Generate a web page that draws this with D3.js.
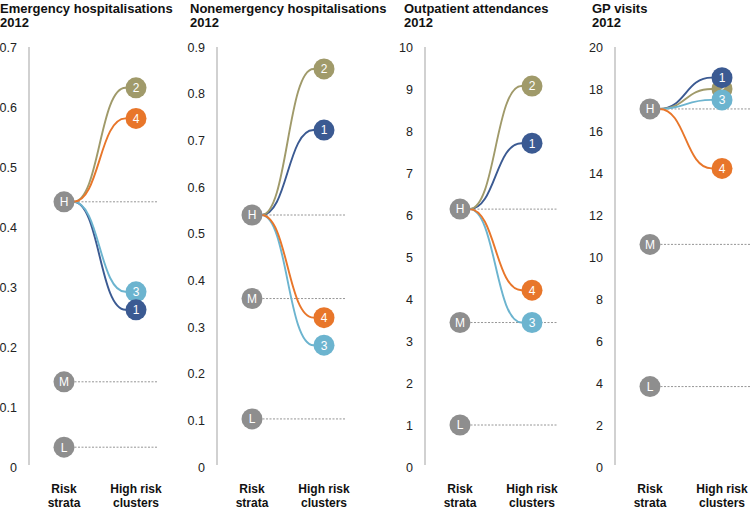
<!DOCTYPE html>
<html>
<head>
<meta charset="utf-8">
<script src="https://cdn.jsdelivr.net/npm/d3@7"></script>
<style>
  body { margin: 0; background: #fff; }
  svg { display: block; font-family: "Liberation Sans", Arial, Helvetica, sans-serif; }
</style>
</head>
<body>
<svg id="chart" width="751" height="510"></svg>
<script>
// panel titles
var titles = ["Emergency hospitalisations", "Nonemergency hospitalisations", "Outpatient attendances", "GP visits"];
var yearLabel = "2012";

// axis ticks per panel
var ticks = [
  [0, 0.1, 0.2, 0.3, 0.4, 0.5, 0.6, 0.7],
  [0, 0.1, 0.2, 0.3, 0.4, 0.5, 0.6, 0.7, 0.8, 0.9],
  [0, 1, 2, 3, 4, 5, 6, 7, 8, 9, 10],
  [0, 2, 4, 6, 8, 10, 12, 14, 16, 18, 20]
];

// risk strata (H, M, L)
var strata = ["H", "M", "L"];
var strataValues = [
  [0.442, 0.142, 0.033],
  [0.540, 0.361, 0.103],
  [6.14, 3.44, 1.0],
  [17.05, 10.6, 3.83]
];

// high risk clusters (1..4), all branching out of H
var clusters = ["1", "2", "3", "4"];
var clusterValues = [
  [0.262, 0.632, 0.292, 0.581],
  [0.722, 0.853, 0.261, 0.320],
  [7.71, 9.07, 3.44, 4.21],
  [18.54, 18.0, 17.48, 14.22]
];

var clusterColors = {"1": "#3b5a92", "2": "#a09a6a", "3": "#6cb4cf", "4": "#e8762a"};
var grey = "#8e8e8e";

// layout
var titleX = [0, 190, 404, 592];
var axisX = [29, 217, 425, 615];
var dashEnd = [157, 345, 558, 751];
var plotTop = 47, plotBottom = 467, r = 10.5;

var svg = d3.select("#chart");

var link = d3.linkHorizontal().x(function(d) { return d[0]; }).y(function(d) { return d[1]; });

titles.forEach(function(title, i) {
  var g = svg.append("g");
  var ax = axisX[i];
  var sx = ax + 35;       // risk strata column
  var cx = sx + 72;       // cluster column

  var y = d3.scaleLinear()
    .domain([0, d3.max(ticks[i])])
    .range([plotBottom, plotTop]);

  // title
  var t = g.append("text")
    .attr("x", titleX[i])
    .attr("y", 13)
    .style("font-weight", "bold")
    .style("font-size", "13px")
    .attr("fill", "#111");
  t.append("tspan").attr("x", titleX[i]).text(title);
  t.append("tspan").attr("x", titleX[i]).attr("dy", 14).text(yearLabel);

  // axis line + labels
  g.append("line")
    .attr("x1", ax).attr("x2", ax)
    .attr("y1", plotTop).attr("y2", plotBottom - 2)
    .attr("stroke", "#b3b3b3")
    .attr("stroke-width", 1.2);

  g.selectAll(".tick")
    .data(ticks[i])
    .enter()
    .append("text")
    .attr("x", ax - 12)
    .attr("y", function(d) { return y(d); })
    .attr("dy", "0.36em")
    .attr("text-anchor", "end")
    .style("font-size", "12.5px")
    .attr("fill", "#222")
    .text(function(d) { return d3.format("~g")(d); });

  // dashed reference lines from each stratum
  g.selectAll(".dash")
    .data(strataValues[i])
    .enter()
    .append("line")
    .attr("x1", sx + r).attr("x2", dashEnd[i])
    .attr("y1", function(d) { return y(d); })
    .attr("y2", function(d) { return y(d); })
    .attr("stroke", "#8a8a8a")
    .attr("stroke-width", 0.9)
    .attr("stroke-dasharray", "2,1.5");

  // curves from H to each cluster
  var hy = y(strataValues[i][0]);
  g.selectAll(".curve")
    .data(clusters)
    .enter()
    .append("path")
    .attr("d", function(c, j) {
      return link({source: [sx + r - 1, hy], target: [cx - r, y(clusterValues[i][j])]}) + "L" + cx + "," + y(clusterValues[i][j]);
    })
    .attr("fill", "none")
    .attr("stroke", function(c) { return clusterColors[c]; })
    .attr("stroke-width", 1.9);

  // strata circles
  var sg = g.selectAll(".strata")
    .data(strata)
    .enter()
    .append("g")
    .attr("transform", function(d, j) { return "translate(" + sx + "," + y(strataValues[i][j]) + ")"; });
  sg.append("circle").attr("r", r).attr("fill", grey);
  sg.append("text")
    .attr("text-anchor", "middle")
    .attr("dy", "0.36em")
    .style("font-size", "12px")
    .attr("fill", "#fff")
    .text(function(d) { return d; });

  // cluster circles (2 first so 1 and 3 sit on top)
  var order = [1, 3, 2, 0];
  var cg = g.selectAll(".cluster")
    .data(order)
    .enter()
    .append("g")
    .attr("transform", function(j) { return "translate(" + cx + "," + y(clusterValues[i][j]) + ")"; });
  cg.append("circle").attr("r", r).attr("fill", function(j) { return clusterColors[clusters[j]]; });
  cg.append("text")
    .attr("text-anchor", "middle")
    .attr("dy", "0.36em")
    .style("font-size", "12px")
    .attr("fill", "#fff")
    .text(function(j) { return clusters[j]; });

  // column labels
  [[sx, "Risk", "strata"], [cx, "High risk", "clusters"]].forEach(function(lbl) {
    var tt = g.append("text")
      .attr("text-anchor", "middle")
      .attr("y", 493)
      .style("font-weight", "bold")
      .style("font-size", "12px")
      .attr("fill", "#111");
    tt.append("tspan").attr("x", lbl[0]).text(lbl[1]);
    tt.append("tspan").attr("x", lbl[0]).attr("dy", 14).text(lbl[2]);
  });
});
</script>
</body>
</html>
